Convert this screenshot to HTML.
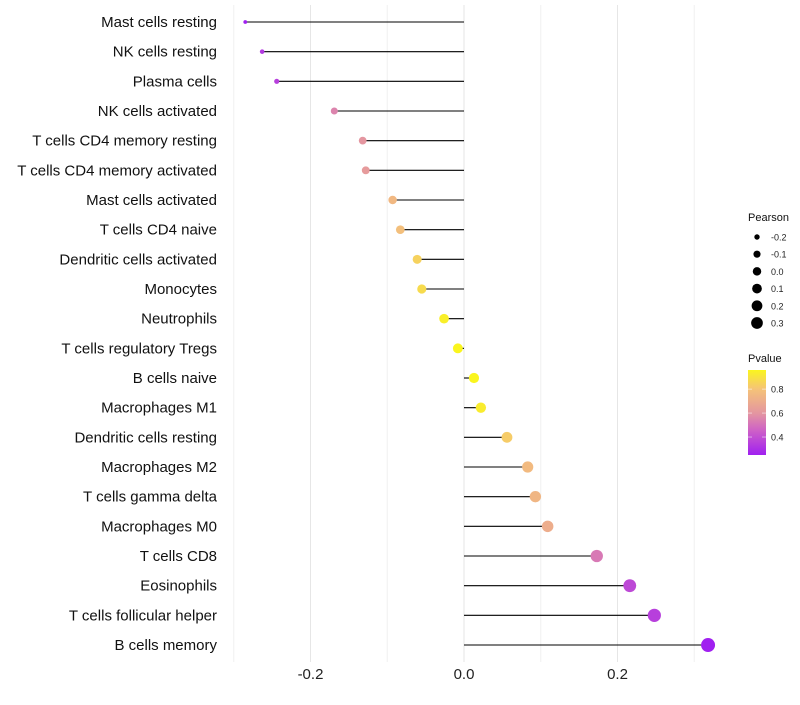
<!DOCTYPE html>
<html><head><meta charset="utf-8"><style>
body{margin:0;background:#fff;font-family:"Liberation Sans",sans-serif}
</style></head><body>
<svg id="chart" width="800" height="700" xmlns="http://www.w3.org/2000/svg" font-family="Liberation Sans, sans-serif"></svg>
<script>
const categories=["Mast cells resting","NK cells resting","Plasma cells","NK cells activated","T cells CD4 memory resting","T cells CD4 memory activated","Mast cells activated","T cells CD4 naive","Dendritic cells activated","Monocytes","Neutrophils","T cells regulatory  Tregs ","B cells naive","Macrophages M1","Dendritic cells resting","Macrophages M2","T cells gamma delta","Macrophages M0","T cells CD8","Eosinophils","T cells follicular helper","B cells memory"];
const pearson=[-0.285,-0.263,-0.244,-0.169,-0.132,-0.128,-0.093,-0.083,-0.061,-0.055,-0.026,-0.008,0.013,0.022,0.056,0.083,0.093,0.109,0.173,0.216,0.248,0.318];
const pvalue=[0.25,0.33,0.35,0.55,0.6,0.62,0.75,0.78,0.85,0.88,0.95,0.98,0.97,0.94,0.83,0.76,0.74,0.7,0.52,0.38,0.35,0.25];
const xTicks=[-0.2,0.0,0.2];
const xTickLabels=["-0.2","0.0","0.2"];
const minorTicks=[-0.3,-0.1,0.1,0.3];
const sizeLegend=[-0.2,-0.1,0.0,0.1,0.2,0.3];
const pLegendTicks=[0.4,0.6,0.8];

const svg=document.getElementById('chart');
const NS="http://www.w3.org/2000/svg";
function mk(t,a,p){const e=document.createElementNS(NS,t);for(const k in a)e.setAttribute(k,a[k]);(p||svg).appendChild(e);return e;}
const x=v=>464+v*767.5;
const y=i=>22+i*29.667;
const r=v=>Math.sqrt(Math.max(3,25+75*v));
const stops=[[0.25,[160,32,240]],[0.45,[205,95,200]],[0.6,[228,150,160]],[0.8,[245,195,120]],[0.97,[250,245,30]]];
function col(p){if(p<=stops[0][0])return `rgb(${stops[0][1]})`;for(let i=1;i<stops.length;i++){if(p<=stops[i][0]){const a=stops[i-1],b=stops[i],t=(p-a[0])/(b[0]-a[0]);return `rgb(${a[1].map((c,j)=>Math.round(c+(b[1][j]-c)*t))})`;}}return `rgb(${stops[stops.length-1][1]})`;}

minorTicks.forEach(v=>{const g=mk('line',{x1:x(v),x2:x(v),y1:5,y2:662,stroke:'#f0f0f0','stroke-width':1});
});
xTicks.forEach((v,i)=>{const g=mk('line',{x1:x(v),x2:x(v),y1:5,y2:662,stroke:'#e6e6e6','stroke-width':1});

const t=mk('text',{x:x(v),y:679,'text-anchor':'middle','font-size':15,fill:'#222'});t.textContent=xTickLabels[i];
});
categories.forEach((c,i)=>{
const t=mk('text',{x:217,y:y(i)+5,'text-anchor':'end','font-size':15,fill:'#111'});t.textContent=c;

const l=mk('line',{x1:x(0),x2:x(pearson[i]),y1:y(i),y2:y(i),stroke:'#000','stroke-width':1.1});

const d=mk('circle',{cx:x(pearson[i]),cy:y(i),r:r(pearson[i]),fill:col(pvalue[i])});

});
const lt=mk('text',{x:748,y:221,'font-size':11,fill:'#111'});lt.textContent='Pearson';

sizeLegend.forEach((v,i)=>{const cy=237+i*17.2;
const c=mk('circle',{cx:757,cy:cy,r:r(v)*0.85,fill:'#000'});
const t=mk('text',{x:771,y:cy+3.5,'font-size':9,fill:'#222'});t.textContent=v.toFixed(1);});
const pt=mk('text',{x:748,y:362,'font-size':11,fill:'#111'});pt.textContent='Pvalue';

const defs=mk('defs',{});const lg=mk('linearGradient',{id:'pg',x1:0,y1:1,x2:0,y2:0},defs);
stops.forEach(s=>mk('stop',{offset:((s[0]-0.25)/0.71),'stop-color':`rgb(${s[1]})`},lg));
const py=p=>455-(p-0.25)/0.71*85;
const bar=mk('rect',{x:748,y:370,width:18,height:85,fill:'url(#pg)'});
pLegendTicks.forEach(p=>{mk('line',{x1:748,x2:752,y1:py(p),y2:py(p),stroke:'#fff','stroke-opacity':0.5});mk('line',{x1:762,x2:766,y1:py(p),y2:py(p),stroke:'#fff','stroke-opacity':0.5});
const t=mk('text',{x:771,y:py(p)+3.5,'font-size':9,fill:'#222'});t.textContent=p.toFixed(1);});
</script>
</body></html>
